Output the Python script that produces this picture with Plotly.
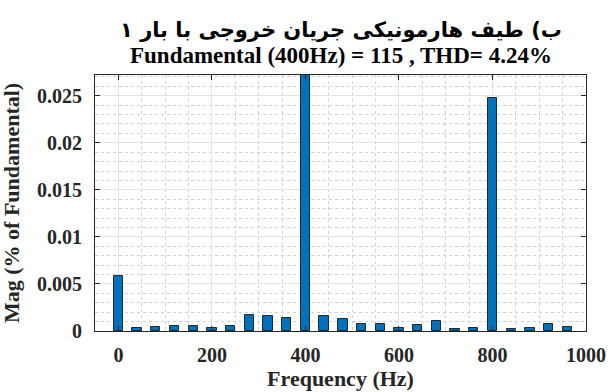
import plotly.graph_objects as go

# Harmonic spectrum of output current (magnitude relative to the 400 Hz fundamental)
freq_hz = [0, 40, 80, 120, 160, 200, 240, 280, 320, 360, 400, 440, 480, 520,
           560, 600, 640, 680, 720, 760, 800, 840, 880, 920, 960]
mag_rel = [0.0058, 0.00032, 0.00043, 0.0005, 0.0005, 0.00036, 0.0005, 0.0017,
           0.00164, 0.00138, 1.0, 0.00156, 0.00128, 0.00074, 0.00071, 0.0003,
           0.0006, 0.00106, 0.00017, 0.00028, 0.0248, 0.00018, 0.00029,
           0.00071, 0.00043]

title_fa = "ب) طیف هارمونیکی جریان خروجی با بار ۱"
title_en = "Fundamental (400Hz) = 115 , THD= 4.24%"
x_title = "Frequency (Hz)"
y_title = "Mag (% of Fundamental)"
x_ticks = [0, 200, 400, 600, 800, 1000]
y_ticks = [0, 0.005, 0.01, 0.015, 0.02, 0.025]
y_tick_text = ["0", "0.005", "0.01", "0.015", "0.02", "0.025"]

serif = "Liberation Serif, Times New Roman, serif"
ink = "#262626"

fig = go.Figure(
    go.Bar(
        x=freq_hz,
        y=mag_rel,
        width=20,
        marker=dict(color="#0072BD", line=dict(color="#1f2a33", width=1)),
    )
)

axis_common = dict(
    showline=True,
    linecolor=ink,
    linewidth=1,
    mirror="ticks",
    ticks="inside",
    ticklen=5,
    tickcolor=ink,
    showgrid=True,
    gridcolor="#e3e3e3",
    gridwidth=1,
    zeroline=False,
    automargin=False,
    tickfont=dict(family=serif, size=20, color=ink, weight="bold"),
)

fig.update_xaxes(
    range=[-50, 1000],
    tickvals=x_ticks,
    minor=dict(dtick=50, tick0=0, showgrid=True, gridcolor="#d2d2d2",
               griddash="dot", gridwidth=1, ticks=""),
    title=dict(text=x_title, font=dict(family=serif, size=22, color=ink, weight="bold"),
               standoff=4),
    ticklabelstandoff=6,
    **axis_common,
)
fig.update_yaxes(
    range=[0, 0.0272],
    tickvals=y_ticks,
    ticktext=y_tick_text,
    minor=dict(dtick=0.001, tick0=0, showgrid=True, gridcolor="#d2d2d2",
               griddash="dot", gridwidth=1, ticks=""),
    ticklabelstandoff=8,
    **axis_common,
)

# Vertical axis label placed as rotated text
fig.add_annotation(
    text=y_title, xref="paper", yref="paper", x=0, y=0.5, xanchor="center",
    yanchor="middle", xshift=-84, textangle=-90, showarrow=False,
    font=dict(family=serif, size=22, color=ink, weight="bold"),
)

fig.add_annotation(
    text=title_fa, xref="paper", yref="paper", x=0.5, y=1.0, xanchor="center",
    yanchor="bottom", yshift=31, showarrow=False,
    font=dict(family="DejaVu Sans, Noto Sans, sans-serif", size=21, color="black",
              weight="bold"),
)
fig.add_annotation(
    text=title_en, xref="paper", yref="paper", x=0.5, y=1.0, xanchor="center",
    yanchor="bottom", yshift=5, showarrow=False,
    font=dict(family=serif, size=23, color="black", weight="bold"),
)

fig.update_layout(
    width=608,
    height=392,
    margin=dict(l=95, r=22, t=75, b=61),
    plot_bgcolor="white",
    paper_bgcolor="white",
    showlegend=False,
    bargap=0,
)

fig.write_html("out.html")
